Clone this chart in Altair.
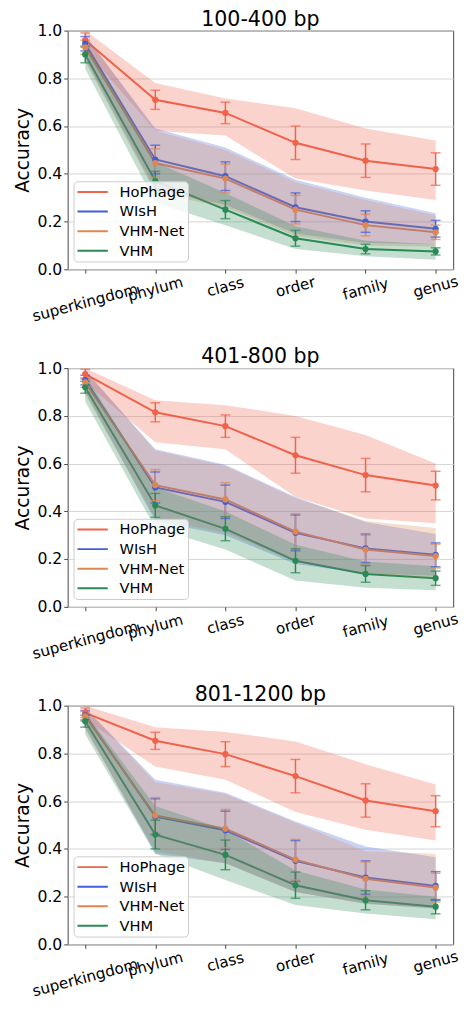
import altair as alt
import pandas as pd

ranks = ["superkingdom", "phylum", "class", "order", "family", "genus"]
methods = ["HoPhage", "WIsH", "VHM-Net", "VHM"]
colors = ["#f0624a", "#3f5fdc", "#e0874f", "#2a8a55"]
titles = ["100-400 bp", "401-800 bp", "801-1200 bp"]

# ---------------- 100-400 bp ----------------
a_mean = {
    "HoPhage": [0.96, 0.71, 0.655, 0.53, 0.455, 0.42],
    "WIsH": [0.945, 0.46, 0.39, 0.26, 0.20, 0.17],
    "VHM-Net": [0.93, 0.445, 0.38, 0.25, 0.185, 0.155],
    "VHM": [0.90, 0.37, 0.25, 0.13, 0.085, 0.075],
}
a_err = {
    "HoPhage": [0.03, 0.04, 0.045, 0.07, 0.07, 0.068],
    "WIsH": [0.03, 0.06, 0.06, 0.06, 0.045, 0.035],
    "VHM-Net": [0.03, 0.06, 0.06, 0.06, 0.045, 0.03],
    "VHM": [0.035, 0.04, 0.038, 0.033, 0.02, 0.015],
}
a_lo = {
    "HoPhage": [0.92, 0.58, 0.56, 0.38, 0.33, 0.29],
    "WIsH": [0.88, 0.33, 0.27, 0.15, 0.11, 0.105],
    "VHM-Net": [0.87, 0.32, 0.26, 0.14, 0.10, 0.095],
    "VHM": [0.84, 0.28, 0.185, 0.085, 0.055, 0.04],
}
a_hi = {
    "HoPhage": [1.0, 0.78, 0.715, 0.675, 0.59, 0.54],
    "WIsH": [0.98, 0.59, 0.51, 0.375, 0.30, 0.235],
    "VHM-Net": [0.98, 0.58, 0.50, 0.365, 0.29, 0.225],
    "VHM": [0.95, 0.45, 0.32, 0.18, 0.12, 0.105],
}

# ---------------- 401-800 bp ----------------
b_mean = {
    "HoPhage": [0.975, 0.815, 0.757, 0.635, 0.552, 0.508],
    "WIsH": [0.95, 0.50, 0.44, 0.31, 0.245, 0.218],
    "VHM-Net": [0.94, 0.51, 0.45, 0.315, 0.24, 0.213],
    "VHM": [0.92, 0.425, 0.327, 0.193, 0.138, 0.12],
}
b_err = {
    "HoPhage": [0.02, 0.04, 0.047, 0.075, 0.07, 0.06],
    "WIsH": [0.02, 0.065, 0.07, 0.075, 0.06, 0.05],
    "VHM-Net": [0.02, 0.065, 0.07, 0.075, 0.06, 0.05],
    "VHM": [0.025, 0.05, 0.05, 0.05, 0.035, 0.03],
}
b_lo = {
    "HoPhage": [0.94, 0.69, 0.66, 0.46, 0.37, 0.35],
    "WIsH": [0.90, 0.36, 0.30, 0.18, 0.14, 0.13],
    "VHM-Net": [0.89, 0.37, 0.31, 0.19, 0.14, 0.12],
    "VHM": [0.86, 0.33, 0.24, 0.11, 0.08, 0.07],
}
b_hi = {
    "HoPhage": [1.0, 0.865, 0.845, 0.80, 0.72, 0.60],
    "WIsH": [0.99, 0.66, 0.595, 0.46, 0.355, 0.305],
    "VHM-Net": [0.99, 0.655, 0.59, 0.455, 0.36, 0.33],
    "VHM": [0.97, 0.50, 0.40, 0.26, 0.19, 0.17],
}

# ---------------- 801-1200 bp ----------------
c_mean = {
    "HoPhage": [0.97, 0.853, 0.797, 0.705, 0.603, 0.558],
    "WIsH": [0.96, 0.535, 0.478, 0.35, 0.28, 0.245],
    "VHM-Net": [0.955, 0.54, 0.485, 0.355, 0.275, 0.238],
    "VHM": [0.935, 0.46, 0.375, 0.248, 0.185, 0.158],
}
c_err = {
    "HoPhage": [0.02, 0.036, 0.052, 0.07, 0.07, 0.065],
    "WIsH": [0.02, 0.075, 0.08, 0.085, 0.07, 0.06],
    "VHM-Net": [0.02, 0.075, 0.08, 0.085, 0.07, 0.06],
    "VHM": [0.025, 0.06, 0.062, 0.055, 0.04, 0.03],
}
c_lo = {
    "HoPhage": [0.94, 0.745, 0.69, 0.555, 0.48, 0.435],
    "WIsH": [0.91, 0.38, 0.34, 0.22, 0.17, 0.15],
    "VHM-Net": [0.90, 0.39, 0.34, 0.22, 0.17, 0.15],
    "VHM": [0.88, 0.38, 0.27, 0.165, 0.13, 0.105],
}
c_hi = {
    "HoPhage": [1.0, 0.91, 0.89, 0.85, 0.755, 0.67],
    "WIsH": [0.99, 0.69, 0.635, 0.515, 0.41, 0.365],
    "VHM-Net": [0.99, 0.68, 0.63, 0.51, 0.39, 0.38],
    "VHM": [0.97, 0.58, 0.48, 0.31, 0.23, 0.20],
}

FONT = "DejaVu Sans"
W, H = 394, 244


def panel(title, mean, err, lo, hi):
    rows = []
    for m in methods:
        for i, r in enumerate(ranks):
            rows.append(dict(method=m, rank=r, mean=mean[m][i],
                             elo=mean[m][i] - err[m][i], ehi=mean[m][i] + err[m][i],
                             blo=lo[m][i], bhi=hi[m][i]))
    df = pd.DataFrame(rows)
    xscale = alt.Scale(type="point", padding=0.25, domain=ranks)
    xenc = alt.X("rank:N", sort=ranks, title=None, scale=xscale,
                 axis=alt.Axis(labels=False, tickSize=4, domain=False, grid=False))
    yscale = alt.Scale(domain=[0, 1], nice=False)
    yaxis = alt.Axis(values=[0, 0.2, 0.4, 0.6, 0.8, 1.0], format=".1f", title="Accuracy",
                     titleFontSize=19, titleFontWeight="normal", titleColor="black",
                     titleFont=FONT, labelFont=FONT, labelFontSize=16, labelColor="black",
                     grid=True, gridColor="#d4d4d4", domain=False, tickSize=4, titlePadding=5)
    cscale = alt.Scale(domain=methods, range=colors)
    col = alt.Color("method:N", scale=cscale, sort=methods,
                    legend=alt.Legend(orient="none", legendX=6, legendY=154, title=None,
                                      symbolType="stroke", symbolSize=961,
                                      symbolStrokeWidth=2, symbolOpacity=1,
                                      labelFontSize=15, labelFont=FONT, labelColor="black",
                                      fillColor="rgba(255,255,255,0.8)",
                                      strokeColor="#cccccc", cornerRadius=4,
                                      padding=3, rowPadding=4, clipHeight=16,
                                      labelOffset=11, offset=0))
    base = alt.Chart(df)
    band = base.mark_area(fillOpacity=0.28).encode(
        x=xenc, y=alt.Y("blo:Q", scale=yscale, axis=yaxis), y2="bhi:Q", color=col)
    line = base.mark_line(strokeWidth=2).encode(
        x=xenc, y=alt.Y("mean:Q", scale=yscale, axis=yaxis), color=col)
    rule = base.mark_rule(strokeWidth=1.5).encode(
        x=xenc, y=alt.Y("elo:Q", scale=yscale, axis=yaxis), y2="ehi:Q", color=col)
    cap_lo = base.mark_tick(size=10, thickness=1.5).encode(
        x=xenc, y=alt.Y("elo:Q", scale=yscale, axis=yaxis), color=col)
    cap_hi = base.mark_tick(size=10, thickness=1.5).encode(
        x=xenc, y=alt.Y("ehi:Q", scale=yscale, axis=yaxis), color=col)
    pts = base.mark_point(filled=True, size=40, opacity=1).encode(
        x=xenc, y=alt.Y("mean:Q", scale=yscale, axis=yaxis), color=col)

    # rotated category labels (matplotlib-like placement: longer labels sit lower)
    lab = alt.Chart(pd.DataFrame({"rank": ranks})).transform_calculate(
        off="6.5 + 2.3 * length(datum.rank)"
    ).mark_text(angle=345, align="center", baseline="middle", fontSize=15.5,
                font=FONT, color="black").encode(
        x=alt.X("rank:N", sort=ranks, scale=xscale, title=None),
        y=alt.value(H),
        yOffset=alt.YOffset("off:Q", scale=None),
        text="rank:N")

    ttl = alt.Chart(pd.DataFrame({"t": [title]})).mark_text(
        align="center", baseline="alphabetic", fontSize=21, font=FONT, color="black"
    ).encode(x=alt.value(W / 2), y=alt.value(-5), text="t:N")

    return alt.layer(line, band, rule, cap_lo, cap_hi, pts, lab, ttl).properties(
        width=W, height=H)


p1 = panel(titles[0], a_mean, a_err, a_lo, a_hi)
p2 = panel(titles[1], b_mean, b_err, b_lo, b_hi)
p3 = panel(titles[2], c_mean, c_err, c_lo, c_hi)

chart = alt.vconcat(p1, p2, p3, spacing=20).resolve_scale(color="independent").properties(
    padding={"left": 5, "top": -11, "right": 0, "bottom": 0}
).configure_view(stroke="#444444", strokeWidth=1).configure_axis(
    tickColor="#444444"
)

chart.save("out.html", embed_options={"renderer": "svg", "actions": False})
